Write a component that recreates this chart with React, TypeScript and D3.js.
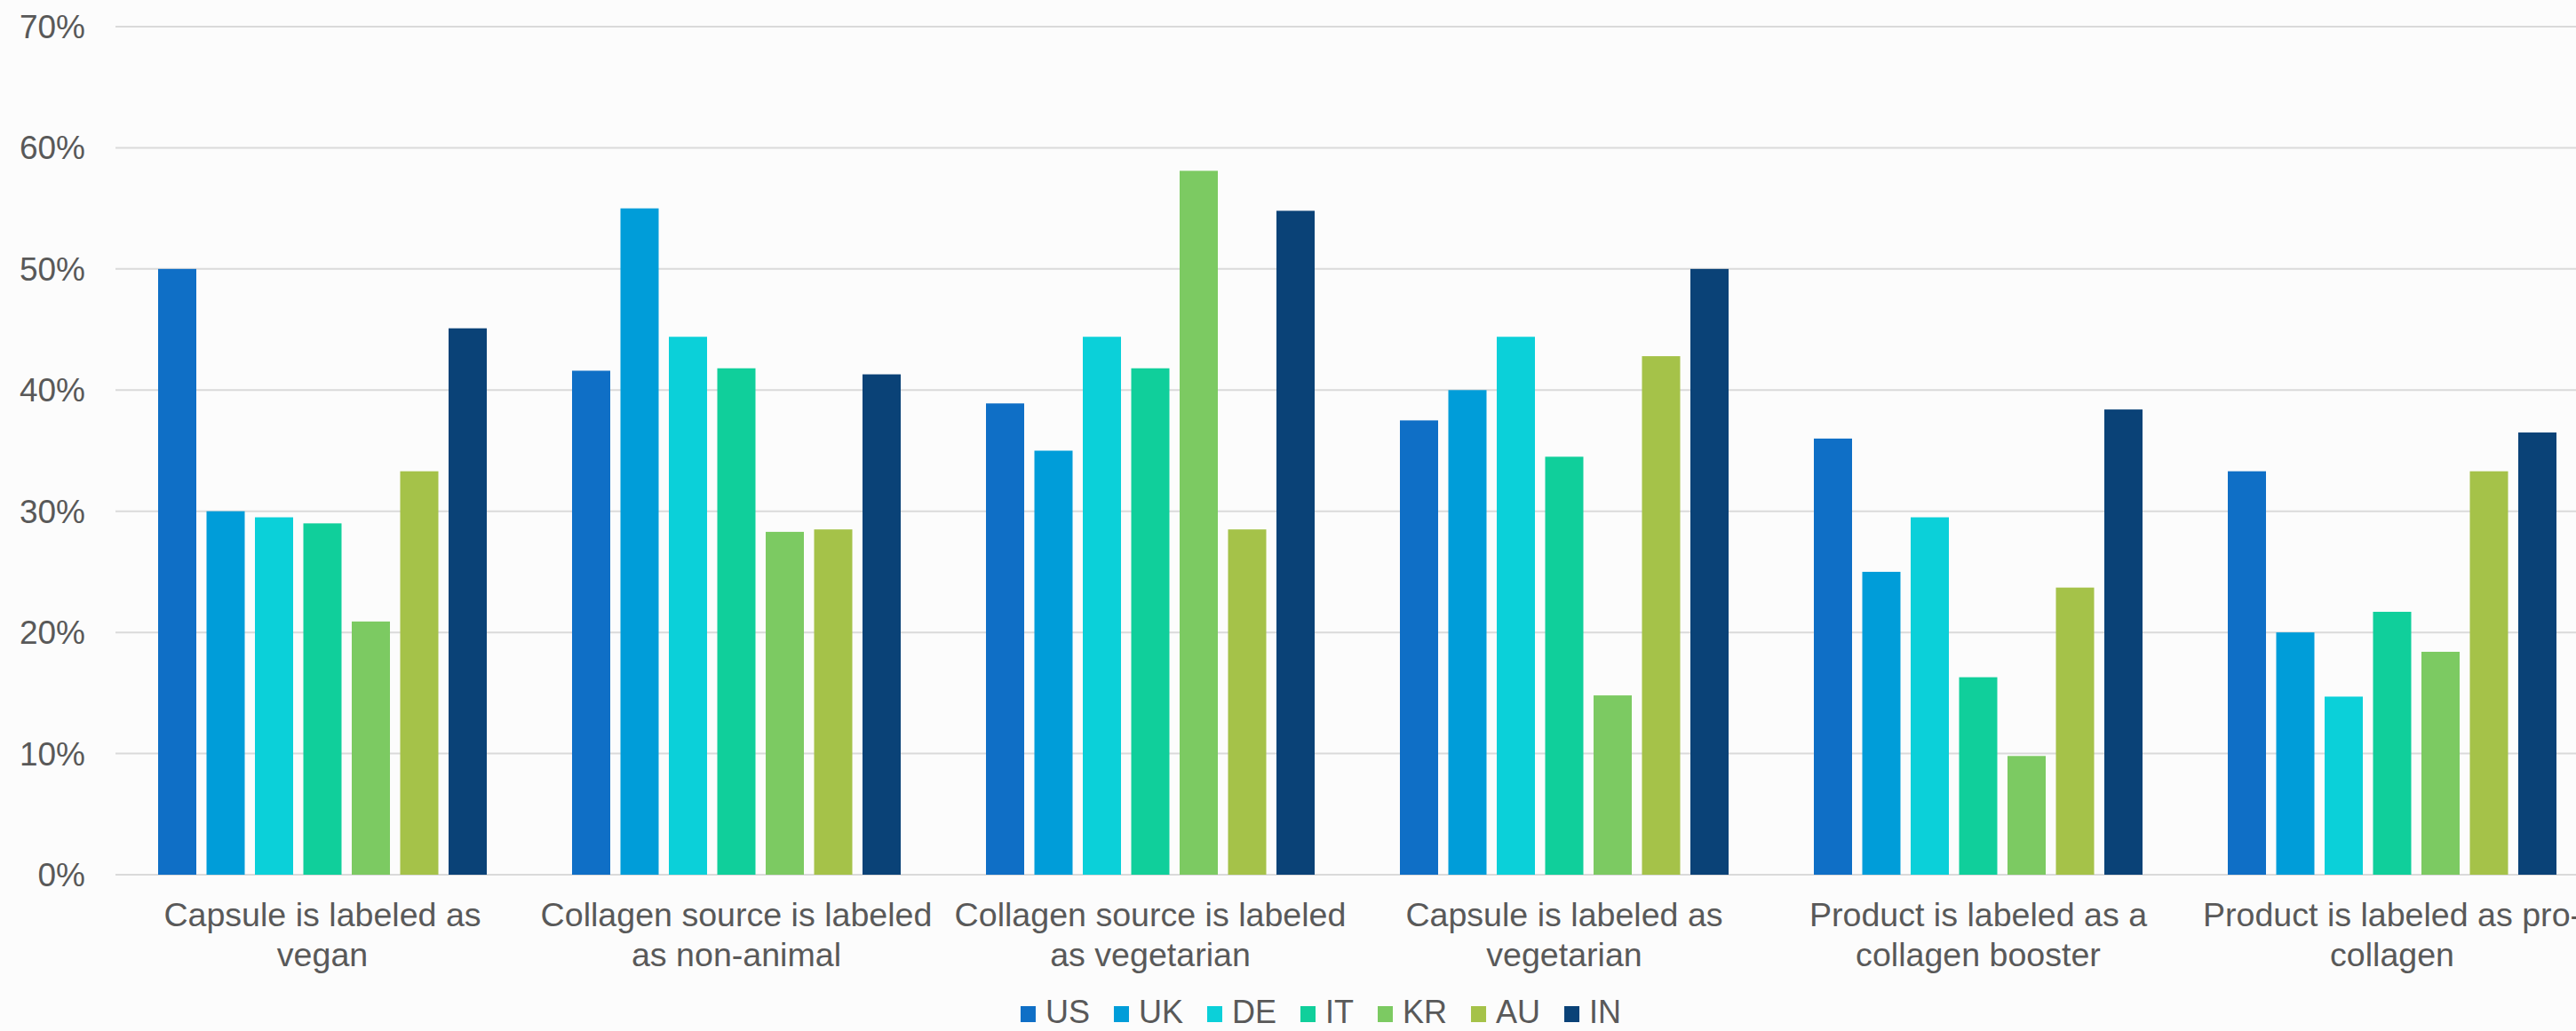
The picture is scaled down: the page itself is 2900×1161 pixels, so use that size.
import React, { useRef, useEffect } from 'react';
import * as d3 from 'd3';

const categories = [
    'Capsule is labeled as\nvegan',
    'Collagen source is labeled\nas non-animal',
    'Collagen source is labeled\nas vegetarian',
    'Capsule is labeled as\nvegetarian',
    'Product is labeled as a\ncollagen booster',
    'Product is labeled as pro-\ncollagen',
];

const countries = ['US', 'UK', 'DE', 'IT', 'KR', 'AU', 'IN'];

const US = [50.0, 41.6, 38.9, 37.5, 36.0, 33.3];
const UK = [30.0, 55.0, 35.0, 40.0, 25.0, 20.0];
const DE = [29.5, 44.4, 44.4, 44.4, 29.5, 14.7];
const IT = [29.0, 41.8, 41.8, 34.5, 16.3, 21.7];
const KR = [20.9, 28.3, 58.1, 14.8, 9.8, 18.4];
const AU = [33.3, 28.5, 28.5, 42.8, 23.7, 33.3];
const IN = [45.1, 41.3, 54.8, 50.0, 38.4, 36.5];

const yTicks = [0, 10, 20, 30, 40, 50, 60, 70];

const colors = ['#0F6FC6', '#009DD9', '#0BD0D9', '#10CF9B', '#7CCA62', '#A5C249', '#0A4277'];

const W = 2900;
const H = 1161;
const FONT = '"Liberation Sans", Arial, Helvetica, sans-serif';

const App: React.FC = () => {
    const ref = useRef<SVGSVGElement>(null);

    useEffect(() => {
        if (!ref.current) return;
        const svg = d3.select(ref.current);
        svg.selectAll('*').remove();

        const series = [US, UK, DE, IT, KR, AU, IN];
        const left = 130;
        const right = 2926;
        const y0 = 985;
        const yTop = 30;

        const x0 = d3.scaleBand<number>()
            .domain(categories.map((_, i) => i))
            .range([left, right])
            .paddingInner(0.206)
            .paddingOuter(0.103);

        const x1 = d3.scaleBand<string>()
            .domain(countries)
            .range([0, x0.bandwidth()])
            .paddingInner(0.211);

        const y = d3.scaleLinear().domain([0, 70]).range([y0, yTop]);

        svg.append('rect').attr('width', W).attr('height', H).attr('fill', '#FCFCFC');

        // grid
        svg.append('g')
            .selectAll('line')
            .data(yTicks)
            .enter()
            .append('line')
            .attr('x1', left)
            .attr('x2', W)
            .attr('y1', d => y(d))
            .attr('y2', d => y(d))
            .attr('stroke', '#DADADA')
            .attr('stroke-width', 2);

        svg.append('g')
            .selectAll('text')
            .data(yTicks)
            .enter()
            .append('text')
            .attr('x', 96)
            .attr('y', d => y(d))
            .attr('dy', '0.35em')
            .attr('text-anchor', 'end')
            .attr('font-family', FONT)
            .attr('font-size', 37)
            .attr('fill', '#595959')
            .text(d => `${d}%`);

        // bars
        const groups = svg.append('g')
            .selectAll('g')
            .data(categories.map((_, i) => i))
            .enter()
            .append('g')
            .attr('transform', i => `translate(${x0(i)},0)`);

        groups.selectAll('rect')
            .data(i => countries.map((c, k) => ({ c, k, v: series[k][i] })))
            .enter()
            .append('rect')
            .attr('x', d => x1(d.c)!)
            .attr('y', d => y(d.v))
            .attr('width', x1.bandwidth())
            .attr('height', d => y0 - y(d.v))
            .attr('fill', d => colors[d.k]);

        // category labels
        const labels = svg.append('g')
            .selectAll('text')
            .data(categories)
            .enter()
            .append('text')
            .attr('text-anchor', 'middle')
            .attr('font-family', FONT)
            .attr('font-size', 37.6)
            .attr('fill', '#595959');

        labels.each(function (d, i) {
            const t = d3.select(this);
            const cx = x0(i)! + x0.bandwidth() / 2;
            d.split('\n').forEach((line, j) => {
                t.append('tspan')
                    .attr('x', cx)
                    .attr('y', 1043 + j * 45)
                    .text(line);
            });
        });

        // legend
        const legend = svg.append('g');
        let lx = 0;
        countries.forEach((c, k) => {
            const item = legend.append('g').attr('transform', `translate(${lx},0)`);
            item.append('rect')
                .attr('x', 0)
                .attr('y', 1133)
                .attr('width', 17)
                .attr('height', 18)
                .attr('fill', colors[k]);
            const txt = item.append('text')
                .attr('x', 28)
                .attr('y', 1152)
                .attr('font-family', FONT)
                .attr('font-size', 36)
                .attr('fill', '#595959')
                .text(c);
            const tw = (txt.node() as SVGTextElement).getComputedTextLength();
            lx += 28 + tw + (k < countries.length - 1 ? 27 : 0);
        });
        legend.attr('transform', `translate(${1487 - lx / 2},0)`);
    }, []);

    return (
        <div style={{ position: 'absolute', left: 0, top: 0, width: W, height: H, overflow: 'hidden' }}>
            <svg ref={ref} width={W} height={H} style={{ display: 'block' }} />
        </div>
    );
};

export default App;
